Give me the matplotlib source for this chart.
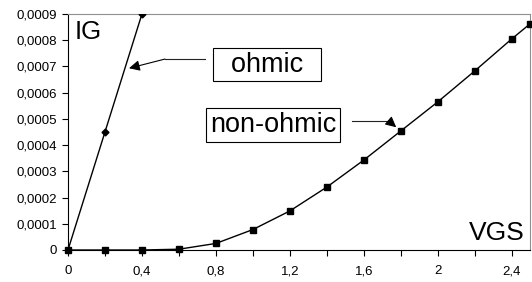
# IG vs VGS curve: ohmic vs non-ohmic gate current

import matplotlib.pyplot as plt
import numpy as np

plt.rcParams['font.family'] = ['Liberation Sans', 'DejaVu Sans']

ohmic_vgs = [0.0, 0.2, 0.4]
ohmic_ig = [0.0, 0.00045, 0.0009]

nonohmic_vgs = [0.0, 0.2, 0.4, 0.6, 0.8, 1.0, 1.2, 1.4, 1.6, 1.8, 2.0, 2.2, 2.4, 2.5]
nonohmic_ig = [0.0, 0.0, 0.0, 0.000003, 0.000025, 0.000078, 0.000149, 0.00024,
               0.000343, 0.000454, 0.000565, 0.000683, 0.000805, 0.000863]

x_ticks = [0, 0.4, 0.8, 1.2, 1.6, 2, 2.4]
x_labels = ["0", "0,4", "0,8", "1,2", "1,6", "2", "2,4"]
y_ticks = np.arange(0, 0.00091, 0.0001)
y_labels = ["0"] + ["0,%04d" % i for i in range(1, 10)]

fig = plt.figure(figsize=(5.32, 2.82), dpi=100)
ax = fig.add_axes([0.1278, 0.1135, 0.869, 0.837])

ax.plot(ohmic_vgs, ohmic_ig, color='black', lw=1, marker='D', ms=3.5, zorder=3)
ax.plot(nonohmic_vgs, nonohmic_ig, color='black', lw=1, marker='s', ms=4.5, zorder=3,
        clip_on=False)

ax.set_xlim(0, 2.5)
ax.set_ylim(0, 0.0009)
ax.set_xticks(np.arange(0, 2.5, 0.2), minor=True)
ax.set_xticks(x_ticks)
ax.set_xticklabels(x_labels)
ax.set_yticks(y_ticks)
ax.set_yticklabels(y_labels)
ax.tick_params(which='both', direction='out', length=4, width=0.8, labelsize=9.5, pad=4)
ax.tick_params(axis='x', pad=7)

for s in ['top', 'right']:
    ax.spines[s].set_color('#909090')
for s in ['left', 'bottom']:
    ax.spines[s].set_color('black')

ax.text(0.015, 0.975, "IG", transform=ax.transAxes, fontsize=18.5, va='top', ha='left')
ax.text(0.988, 0.02, "VGS", transform=ax.transAxes, fontsize=19, va='bottom', ha='right')

ax.text(1.076, 0.000707, "  ohmic  ", fontsize=19.5, ha='center', va='center',
        bbox=dict(boxstyle='square,pad=0.12', fc='white', ec='black', lw=0.8))
ax.text(1.108, 0.000477, "non-ohmic", fontsize=19.5, ha='center', va='center',
        bbox=dict(boxstyle='square,pad=0.15', fc='white', ec='black', lw=0.8))

# arrow from ohmic box
ax.plot([0.741, 0.524], [0.000728, 0.000728], color='#222222', lw=0.8)
ax.annotate("", xy=(0.33, 0.000693), xytext=(0.524, 0.000728),
            arrowprops=dict(arrowstyle='-|>', color='black', lw=0.8,
                            mutation_scale=16, shrinkA=0, shrinkB=0))
# arrow from non-ohmic box
ax.plot([1.535, 1.74], [0.000492, 0.000492], color='#222222', lw=0.8)
ax.annotate("", xy=(1.775, 0.000468), xytext=(1.735, 0.000492),
            arrowprops=dict(arrowstyle='-|>', color='black', lw=0.8,
                            mutation_scale=16, shrinkA=0, shrinkB=0))

fig.savefig("out.png", dpi=100)
